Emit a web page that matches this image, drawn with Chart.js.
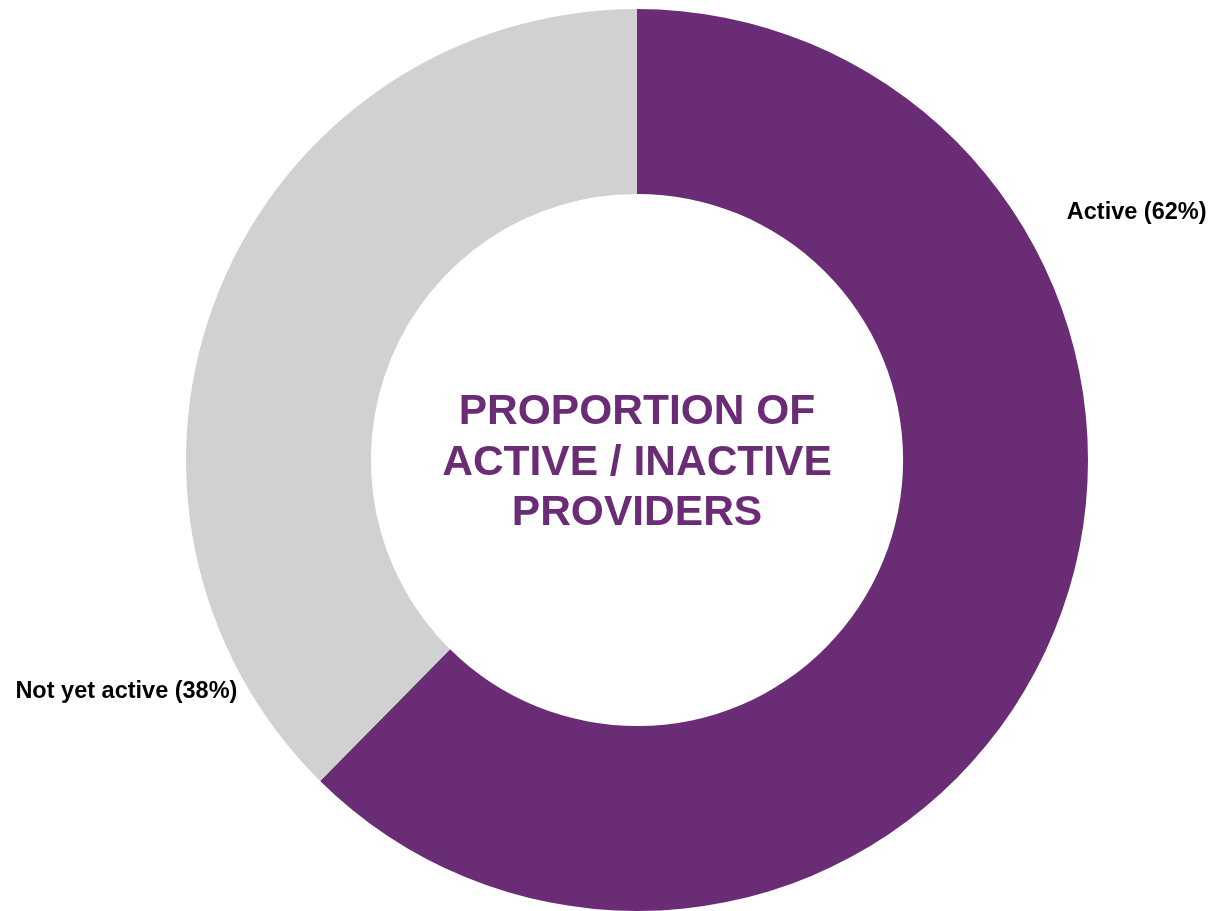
<!DOCTYPE html>
<html>
<head>
<meta charset="utf-8">
<script src="https://cdn.jsdelivr.net/npm/chart.js@4"></script>
<style>
  html, body { margin: 0; padding: 0; background: #fff; }
  #wrap { width: 1226px; height: 911px; }
</style>
</head>
<body>
<div id="wrap"><canvas id="providerChart"></canvas></div>
<script>
// Share of providers by status (percent, labels shown rounded)
const statusLabels = ["Active", "Not yet active"];
const statusShares = [62.4, 37.6];
const statusColors = ["#6A2C75", "#D1D1D1"];
const centerLines = ["PROPORTION OF", "ACTIVE / INACTIVE", "PROVIDERS"];

const labelFont = "bold 23.5px 'Liberation Sans', Arial, sans-serif";
const centerFont = "bold 42.5px 'Liberation Sans', Arial, sans-serif";

// draws the outside slice labels and the title inside the hole
const doughnutText = {
  id: "doughnutText",
  afterDraw(chart) {
    const ctx = chart.ctx;
    const arc = chart.getDatasetMeta(0).data[0];
    const cx = arc.x, cy = arc.y, r = arc.outerRadius;
    const pct = (i) => `${statusLabels[i]} (${Math.round(statusShares[i])}%)`;
    ctx.save();
    ctx.textBaseline = "middle";

    ctx.font = labelFont;
    ctx.fillStyle = "#000";
    ctx.textAlign = "left";
    ctx.fillText(pct(0), cx + r * 0.953, cy - r * 0.548);
    ctx.textAlign = "right";
    ctx.fillText(pct(1), cx - r * 0.886, cy + r * 0.514);

    ctx.font = centerFont;
    ctx.fillStyle = statusColors[0];
    ctx.textAlign = "center";
    centerLines.forEach((line, i) => {
      ctx.fillText(line, cx, cy + (i - 1) * 50.5 + 3);
    });
    ctx.restore();
  },
};

new Chart(document.getElementById("providerChart"), {
  type: "doughnut",
  data: {
    labels: statusLabels,
    datasets: [
      {
        data: statusShares,
        backgroundColor: statusColors,
        borderWidth: 0,
        hoverOffset: 0,
      },
    ],
  },
  options: {
    responsive: true,
    maintainAspectRatio: false,
    animation: false,
    cutout: "59%",
    layout: {
      padding: { top: 9, bottom: 0, left: 48, right: 0 },
    },
    plugins: {
      legend: { display: false },
      tooltip: { enabled: false },
    },
  },
  plugins: [doughnutText],
});
</script>
</body>
</html>
